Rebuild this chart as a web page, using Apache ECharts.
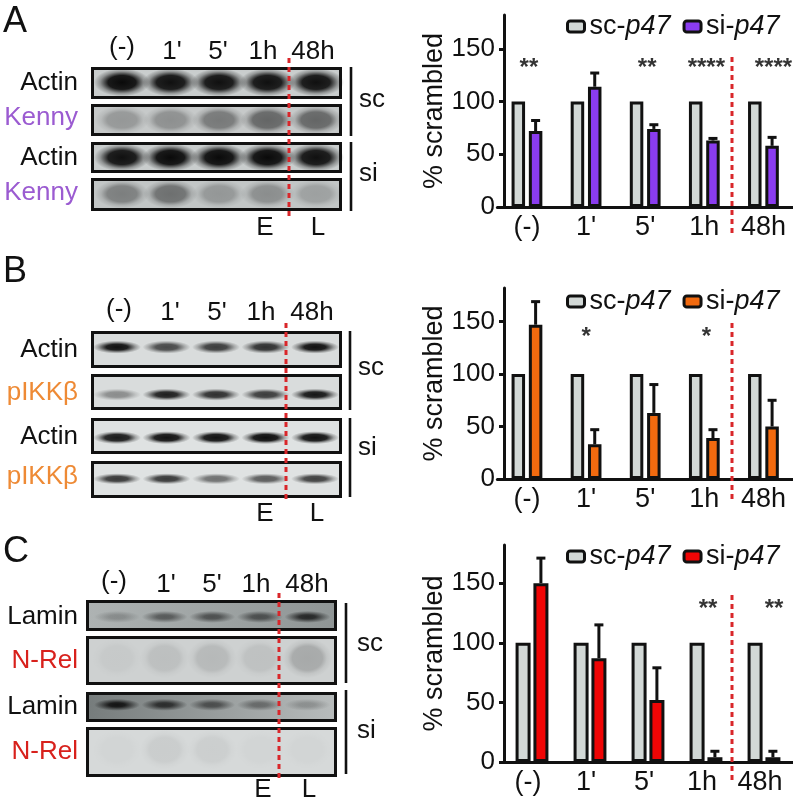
<!DOCTYPE html>
<html><head><meta charset="utf-8">
<style>html,body{margin:0;padding:0;background:#fff}#c{width:793px;height:809px}</style>
<script src="https://cdn.jsdelivr.net/npm/echarts@6/dist/echarts.min.js"></script>
</head><body><div id="c"></div>
<script>
// ---- data ----
const timepoints = ['(-)', "1'", "5'", '1h', '48h'];
const seriesNames = ['sc-p47', 'si-p47'];
const scValues = [100, 100, 100, 100, 100];
const siKenny = [72, 114, 74, 63, 58];
const siKennyTop = [82, 127, 78, 65, 66];
const siIkk = [147, 33, 63, 39, 50];
const siIkkTop = [169, 47, 90, 47, 75];
const siRel = [150, 87, 52, 4, 4];
const siRelTop = [171, 115, 79, 9, 9];
const sigKenny = ['**', '', '**', '****', '****'];
const sigIkk = ['', '*', '', '*', ''];
const sigRel = ['', '', '', '**', '**'];
const yTicks = [0, 50, 100, 150];

// blot band intensities per lane (0..1)
const actinScA = [1, .97, .97, .97, .97];
const kennySc = [.26, .3, .42, .52, .52];
const actinSiA = [.97, 1, 1, 1, .97];
const kennySi = [.38, .46, .25, .3, .2];
const actinScB = [.97, .7, .76, .82, .97];
const ikkSc = [.38, .9, .82, .76, .94];
const actinSiB = [.92, .96, .96, .98, .96];
const ikkSi = [.78, .78, .52, .62, .74];
const laminSc = [.22, .5, .55, .55, .8];
const relSc = [.04, .09, .12, .08, .2];
const laminSi = [.92, .75, .55, .4, .22];
const relSi = [.02, .06, .05, .02, .02];

// ---- layout ----
const FONT = '"Liberation Sans"';
const INK = '#111';
const panels = [
  { letter: 'A', letterY: 22, si: siKenny, top: siKennyTop, sig: sigKenny, sigV: 131, color: '#8a3cf0',
    plotLeft: 497.4, plotWidth: 296.5, yOffset: -6.6, labelPad: 0,
    gridTop: 15, base: 207, sep: 17.3, barW: 13.5, barGap: '28%', legendY: 27, nameGap: 55,
    redChart: [57, 237],
    blot: { x0: 92.5, x1: 340.5, first: 122, step: 48.5, head: [122, 172, 218, 263, 313], headY: 52, headDY: -4,
      red: [289, 58, 217], e: [265, 318, 228], sc: [351, 67, 136, 359, 100], si: [351, 142, 211, 359, 174],
      strips: [
        { label: 'Actin', lc: '#111', y: 83, t: 68.5, b: 97.5, d: actinScA, cy: .48, w: 56, h: 30, plateau: .5, bg: '#c9cdcd' },
        { label: 'Kenny', lc: '#9b5bd1', y: 118, t: 105.5, b: 134.5, d: kennySc, cy: .5, w: 54, h: 30, plateau: .55, bg: '#c6c9c9' },
        { label: 'Actin', lc: '#111', y: 158, t: 143.5, b: 171.5, d: actinSiA, cy: .5, w: 56, h: 28, plateau: .5, bg: '#c9cdcd' },
        { label: 'Kenny', lc: '#9b5bd1', y: 193, t: 179.5, b: 209.5, d: kennySi, cy: .48, w: 54, h: 30, plateau: .55, bg: '#c2c6c6' }
      ] } },
  { letter: 'B', letterY: 272, si: siIkk, top: siIkkTop, sig: sigIkk, sigV: 135, color: '#f26a0f',
    plotLeft: 497.4, plotWidth: 296.5, yOffset: -6.6, labelPad: 0,
    gridTop: 288, base: 479, sep: 17.3, barW: 13.5, barGap: '28%', legendY: 302, nameGap: 55,
    redChart: [323, 500],
    blot: { x0: 92.5, x1: 340.5, first: 117, step: 49.5, head: [119, 170, 217, 261, 312], headY: 313, headDY: -3,
      red: [286, 323, 503], e: [265, 317, 514], sc: [350, 331, 410, 358, 368], si: [350, 418, 497, 358, 448],
      strips: [
        { label: 'Actin', lc: '#111', y: 350, t: 332.5, b: 366.5, d: actinScB, cy: .43, w: 48, h: 13, plateau: .45, bg: '#d9dcdc' },
        { label: 'pIKKβ', lc: '#ee8a35', y: 393, t: 375.5, b: 408.5, d: ikkSc, cy: .58, w: 48, h: 12, plateau: .45, bg: '#d9dcdc' },
        { label: 'Actin', lc: '#111', y: 437, t: 419.5, b: 452.5, d: actinSiB, cy: .55, w: 48, h: 13, plateau: .5, bg: '#dfe2e2' },
        { label: 'pIKKβ', lc: '#ee8a35', y: 477, t: 462.5, b: 496.5, d: ikkSi, cy: .48, w: 48, h: 11, plateau: .45, bg: '#dfe2e2' }
      ] } },
  { letter: 'C', letterY: 552, si: siRel, top: siRelTop, sig: sigRel, sigV: 128, color: '#f00505',
    plotLeft: 503, plotWidth: 290, yOffset: -1, labelPad: 8,
    gridTop: 545, base: 762, sep: 17.8, barW: 15, barGap: '19%', legendY: 557, nameGap: 55,
    redChart: [595, 783],
    blot: { x0: 87.5, x1: 335.5, first: 117, step: 47.6, head: [114, 166, 212, 256, 307], headY: 585, headDY: -3,
      red: [279, 593, 782], e: [263, 309, 790], sc: [346, 603, 683, 357, 644], si: [346, 690, 774, 357, 731],
      strips: [
        { label: 'Lamin', lc: '#111', y: 617, t: 601.5, b: 629.5, d: laminSc, cy: .55, w: 46, h: 12, plateau: .35, bg: ['#aeb3b3', '#8f9595'] },
        { label: 'N-Rel', lc: '#d8211c', y: 661, t: 637.5, b: 683.5, d: relSc, cy: .45, w: 50, h: 40, plateau: .6, bg: '#ced1d1' },
        { label: 'Lamin', lc: '#111', y: 707, t: 693.5, b: 720.5, d: laminSi, cy: .42, w: 46, h: 12, plateau: .35, bg: ['#767c7c', '#b8bcbc'] },
        { label: 'N-Rel', lc: '#d8211c', y: 752, t: 728.5, b: 775.5, d: relSi, cy: .45, w: 50, h: 40, plateau: .6, bg: '#d6d9d9' }
      ] } }
];
const sigShift = [2, 0, 2, 2, 10];

// ---- option ----
const grid = [], xAxis = [], yAxis = [], series = [], legend = [], graphic = [];
const text = (t, x, y, o) => graphic.push({ type: 'text', x, y, z: 8, silent: true, style: Object.assign({
  text: t, fill: INK, font: '26px ' + FONT, textAlign: 'center', textVerticalAlign: 'middle' }, o || {}) });
const dash = (x, y0, y1) => graphic.push({ type: 'line', z: 9, silent: true,
  shape: { x1: x, y1: y0, x2: x, y2: y1 }, style: { stroke: '#d9262a', lineWidth: 3, lineDash: [5, 4] } });
const rule = (x, y0, y1) => graphic.push({ type: 'line', z: 8, silent: true,
  shape: { x1: x, y1: y0, x2: x, y2: y1 }, style: { stroke: INK, lineWidth: 2.6 } });

panels.forEach(p => {
  // bar chart
  const gi = grid.length;
  grid.push({ left: p.plotLeft, width: p.plotWidth, top: p.gridTop, height: p.base - p.gridTop });
  xAxis.push({ type: 'category', gridIndex: gi, data: timepoints, axisTick: { show: false },
    axisLine: { lineStyle: { color: INK, width: 3 } },
    axisLabel: { color: INK, fontFamily: FONT, fontSize: 27, margin: 7, interval: 0, padding: [0, p.labelPad, 0, 0] } });
  yAxis.push({ type: 'value', gridIndex: gi, min: 0, max: 182, offset: p.yOffset, splitLine: { show: false },
    name: '% scrambled', nameLocation: 'middle', nameGap: p.nameGap,
    nameTextStyle: { color: INK, fontFamily: FONT, fontSize: 27 },
    axisLine: { show: true, onZero: false, lineStyle: { color: INK, width: 3 } },
    axisTick: { show: true, length: 5, lineStyle: { color: INK, width: 3 }, customValues: yTicks },
    axisLabel: { color: INK, fontFamily: FONT, fontSize: 26, margin: 9, customValues: yTicks } });
  const barStyle = c => ({ color: c, borderColor: INK, borderWidth: 3 });
  series.push({ type: 'bar', name: seriesNames[0], xAxisIndex: gi, yAxisIndex: gi, data: scValues,
    barWidth: p.barW, barGap: p.barGap, itemStyle: barStyle('#d2d8d6'), z: 3 });
  series.push({ type: 'bar', name: seriesNames[1], xAxisIndex: gi, yAxisIndex: gi, data: p.si,
    barWidth: p.barW, barGap: p.barGap, itemStyle: barStyle(p.color), z: 3 });
  series.push({ type: 'custom', xAxisIndex: gi, yAxisIndex: gi, z: 2, silent: true,
    data: p.si.map((v, i) => [i, v, p.top[i]]),
    renderItem: (ctx, api) => {
      const a = api.coord([api.value(0), api.value(1)]), b = api.coord([api.value(0), api.value(2)]);
      const x = a[0] + p.sep / 2;
      return { type: 'group', children: [
        { type: 'line', shape: { x1: x, y1: a[1], x2: x, y2: b[1] }, style: { stroke: INK, lineWidth: 3 } },
        { type: 'line', shape: { x1: x - 4.5, y1: b[1], x2: x + 4.5, y2: b[1] }, style: { stroke: INK, lineWidth: 3 } }
      ] };
    } });
  series.push({ type: 'scatter', xAxisIndex: gi, yAxisIndex: gi, silent: true, symbolSize: 1, z: 4,
    itemStyle: { color: 'rgba(0,0,0,0)' },
    data: p.sig.map((s, i) => ({ value: [i, p.sigV],
      label: { show: !!s, formatter: s || ' ', offset: [sigShift[i], 0] } })),
    label: { position: 'inside', color: '#000', fontFamily: FONT, fontSize: 24, fontWeight: 'bold' } });
  legend.push({ left: 566, top: p.legendY - 14, padding: 0, itemWidth: 17, itemHeight: 11, itemGap: 12, icon: 'roundRect',
    selectedMode: false, textStyle: { padding: [0, 0, 0, 0],
      rich: { r: { fontFamily: FONT, fontSize: 27, color: INK }, i: { fontFamily: FONT, fontSize: 27, fontStyle: 'italic', color: INK } } },
    formatter: n => '{r|' + n.slice(0, 3) + '}{i|' + n.slice(3) + '}',
    data: [
      { name: seriesNames[0], itemStyle: barStyle('#d2d8d6') },
      { name: seriesNames[1], itemStyle: barStyle(p.color) }
    ] });
  dash(732, p.redChart[0], p.redChart[1]);

  // blots
  const b = p.blot;
  b.strips.forEach(s => {
    const si = grid.length;
    grid.push({ left: b.first - b.step / 2, width: b.step * 5, top: s.t, height: s.b - s.t });
    xAxis.push({ type: 'category', gridIndex: si, data: timepoints, show: false });
    yAxis.push({ type: 'value', gridIndex: si, min: 0, max: 1, inverse: true, show: false });
    series.push({ type: 'custom', xAxisIndex: si, yAxisIndex: si, silent: true, z: 2,
      data: s.d.map((v, i) => [i, v]),
      renderItem: (ctx, api) => {
        const c = api.coord([api.value(0), s.cy]), v = api.value(1);
        const rgba = a => 'rgba(10,10,10,' + a + ')';
        // keep each band inside its blot frame; a scaled circle stretches the gradient with it
        const ry = Math.min(s.h / 2, c[1] - s.t, s.b - c[1]);
        return { type: 'circle', x: c[0], y: c[1], scaleX: s.w / 2 / ry, shape: { cx: 0, cy: 0, r: ry },
          style: { fill: new echarts.graphic.RadialGradient(.5, .5, .5, [
            { offset: 0, color: rgba(v) }, { offset: s.plateau, color: rgba(v * .92) },
            { offset: .78, color: rgba(v * .3) }, { offset: 1, color: rgba(0) }]) } };
      } });
    const bg = Array.isArray(s.bg)
      ? new echarts.graphic.LinearGradient(0, 0, 1, 0, [{ offset: 0, color: s.bg[0] }, { offset: 1, color: s.bg[1] }])
      : s.bg;
    graphic.push({ type: 'rect', z: 0, silent: true, shape: { x: b.x0, y: s.t, width: b.x1 - b.x0, height: s.b - s.t },
      style: { fill: bg } });
    graphic.push({ type: 'rect', z: 7, silent: true, shape: { x: b.x0, y: s.t, width: b.x1 - b.x0, height: s.b - s.t },
      style: { fill: 'none', stroke: INK, lineWidth: 3 } });
    text(s.label, 78, s.y, { fill: s.lc, textAlign: 'right' });
  });
  timepoints.forEach((t, i) => text(t, b.head[i], b.headY + (i === 0 ? b.headDY : 0)));
  dash(b.red[0], b.red[1], b.red[2]);
  text('E', b.e[0], b.e[2]);
  text('L', b.e[1], b.e[2]);
  rule(b.sc[0], b.sc[1], b.sc[2]);
  rule(b.si[0], b.si[1], b.si[2]);
  text('sc', b.sc[3], b.sc[4], { textAlign: 'left' });
  text('si', b.si[3], b.si[4], { textAlign: 'left' });
  text(p.letter, 3, p.letterY, { textAlign: 'left', font: '36px ' + FONT });
});

const chart = echarts.init(document.getElementById('c'), null, { renderer: 'canvas' });
chart.setOption({ animation: false, backgroundColor: '#fff', tooltip: { show: false },
  grid, xAxis, yAxis, series, legend, graphic: { elements: graphic } });
</script></body></html>
